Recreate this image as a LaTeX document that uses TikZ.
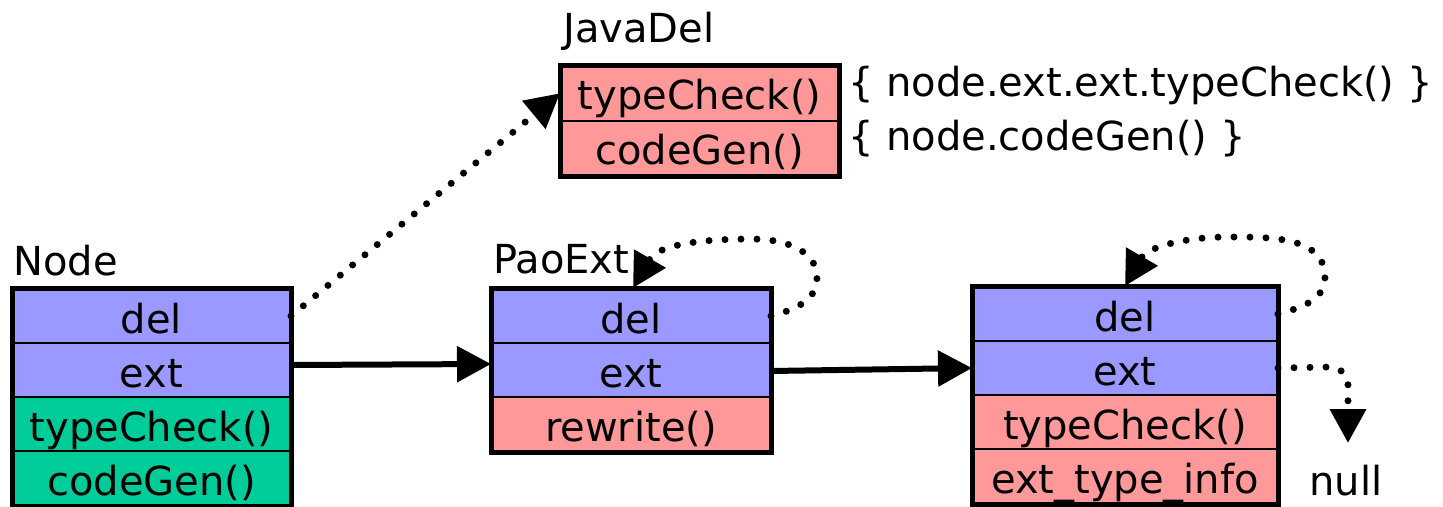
\documentclass[tikz,border=0pt]{standalone}
\usepackage{fontspec}
\setmainfont{DejaVu Sans}
\usetikzlibrary{arrows.meta}
\definecolor{delblue}{RGB}{153,153,255}
\definecolor{methgreen}{RGB}{0,204,153}
\definecolor{extpink}{RGB}{255,153,153}
\tikzset{
  row/.style={draw, line width=2pt, minimum height=54pt, inner sep=0pt, anchor=north west, text height=35pt, text depth=0pt},
  outer/.style={line width=5pt},
  lbl/.style={anchor=base west, inner sep=0pt},
  tip/.style={-{Triangle[length=34pt,width=35pt]}},
  solidarrow/.style={tip, line width=6pt},
  dotarrow/.style={tip, line width=7pt, line cap=round, dash pattern=on 0pt off 16pt}
}
\begin{document}
\begin{tikzpicture}[x=1pt,y=1pt,font=\fontsize{40}{48}\selectfont]
\useasboundingbox (0,0) rectangle (1443,-506);
% Node
\node[row, fill=delblue, minimum width=277pt] (nd) at (12,-288) {del};
\node[row, fill=delblue, minimum width=277pt] (ne) at (12,-342) {ext};
\node[row, fill=methgreen, minimum width=277pt] (nt) at (12,-396) {typeCheck()};
\node[row, fill=methgreen, minimum width=277pt] (nc) at (12,-450) {codeGen()};
\draw[outer] (nd.north west) rectangle (nc.south east);
\node[lbl] (nodelbl) at (13,-275) {Node};
% PaoExt
\node[row, fill=delblue, minimum width=278pt] (pd) at (491,-288) {del};
\node[row, fill=delblue, minimum width=278pt] (pe) at (491,-342) {ext};
\node[row, fill=extpink, minimum width=278pt] (pr) at (491,-396) {rewrite()};
\draw[outer] (pd.north west) rectangle (pr.south east);
\node[lbl] (paolbl) at (493,-273) {PaoExt};
% third
\node[row, fill=delblue, minimum width=304pt] (td) at (972,-286) {del};
\node[row, fill=delblue, minimum width=304pt] (te) at (972,-340) {ext};
\node[row, fill=extpink, minimum width=304pt] (tt) at (972,-394) {typeCheck()};
\node[row, fill=extpink, minimum width=304pt] (ti) at (972,-448) {ext\_type\_info};
\draw[outer] (td.north west) rectangle (ti.south east);
% JavaDel
\node[row, fill=extpink, minimum width=277pt, minimum height=54.5pt, text height=33pt] (jt) at (560,-65) {typeCheck()};
\node[row, fill=extpink, minimum width=277pt, minimum height=54.5pt, text height=33pt] (jc) at (560,-119.5) {codeGen()};
\draw[outer] (jt.north west) rectangle (jc.south east);
\node[lbl] (javalbl) at (563,-42) {JavaDel};
\node[lbl] (brace1) at (848,-96) {\{ node.ext.ext.typeCheck() \}};
\node[lbl] (brace2) at (848,-150) {\{ node.codeGen() \}};
% null
\node[anchor=base, inner sep=0pt] (null) at (1346,-495) {null};
\coordinate (nulltip) at (1348,-443);
% connectors
\draw[dotarrow] (nd.east) -- (jt.west);
\draw[solidarrow] ([yshift=5pt]ne.east) -- ([yshift=6pt]pe.west);
\draw[solidarrow] ([yshift=-1pt]pe.east) -- (te.west);
\draw[dotarrow] (pd.east) to[out=15,in=-90] (817,-278) to[out=90,in=0] (752,-239) to[out=180,in=60] ([xshift=2pt]pd.north);
\draw[dotarrow] (td.east) to[out=15,in=-90] (1325,-277) to[out=90,in=0] (1228,-237) to[out=180,in=60] (td.north);
\draw[dotarrow] (te.east) -- (1330,-367) to[out=0,in=90] (1348,-385) -- (nulltip);
\end{tikzpicture}
\end{document}
